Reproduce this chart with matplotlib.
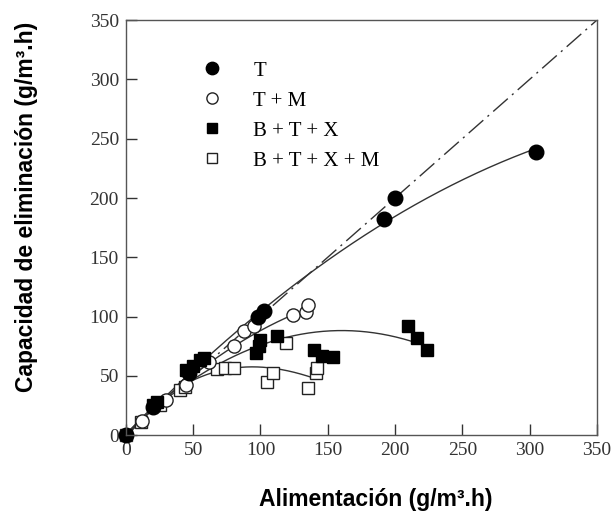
import numpy as np
import matplotlib.pyplot as plt

# data
t_x = [0, 20, 47, 98, 103, 192, 200, 305]
t_y = [0, 24, 52, 100, 105, 182, 200, 239]

tm_x = [0, 12, 30, 45, 62, 80, 88, 95, 124, 134, 135]
tm_y = [0, 12, 30, 42, 62, 75, 88, 92, 101, 104, 110]

btx_x = [20, 23, 45, 50, 55, 58, 97, 99, 100, 112, 140, 146, 154, 210, 216, 224]
btx_y = [25, 28, 55, 58, 63, 65, 69, 75, 80, 84, 72, 67, 66, 92, 82, 72]

btxm_x = [0, 11, 25, 40, 44, 68, 74, 80, 105, 109, 119, 135, 141, 142]
btxm_y = [0, 11, 25, 38, 41, 56, 57, 57, 45, 52, 78, 40, 52, 57]

# points
fit_t_x, fit_t_y = [0, 100, 192, 305], [0, 101, 182, 241]
fit_tm_x, fit_tm_y = [0, 60, 100, 125], [0, 58, 90, 101]
fit_btx_x, fit_btx_y = [0, 60, 100, 165, 216], [0, 57, 75, 86, 79]
fit_btxm_x, fit_btxm_y = [0, 40, 80, 100, 140], [0, 40, 57, 57, 48]

plt.rcParams['font.family'] = ['Liberation Serif', 'DejaVu Serif']

fig = plt.figure(figsize=(6.14, 5.18), dpi=100)
ax = fig.add_axes([0.205, 0.160, 0.767, 0.801])

ax.plot([0, 350], [0, 350], color='#333333', lw=1.0, dashes=[14, 4, 1.5, 4])

def curve(xs, ys, deg):
    c = np.polyfit(xs, ys, deg)
    xx = np.linspace(0, max(xs), 200)
    ax.plot(xx, np.polyval(c, xx), color='#333333', lw=1.0)

curve(fit_t_x, fit_t_y, 2)
curve(fit_tm_x, fit_tm_y, 2)
curve(fit_btx_x, fit_btx_y, 2)
curve(fit_btxm_x, fit_btxm_y, 3)

ax.plot(btxm_x, btxm_y, 's', ms=9, mfc='white', mec='#222222', mew=1.0, clip_on=False, label='B + T + X + M')
ax.plot(tm_x, tm_y, 'o', ms=9.5, mfc='white', mec='#222222', mew=1.0, clip_on=False, label='T + M')
ax.plot(btx_x, btx_y, 's', ms=9, mfc='black', mec='black', clip_on=False, label='B + T + X')
ax.plot(t_x, t_y, 'o', ms=10.5, mfc='black', mec='black', clip_on=False, label='T')

h, l = ax.get_legend_handles_labels()
order = [3, 1, 2, 0]
leg = ax.legend([h[i] for i in order], [l[i] for i in order], loc='upper left',
                bbox_to_anchor=(0.098, 0.947), frameon=False, fontsize=15,
                handletextpad=1.0, labelspacing=0.5, markerscale=0.85)

ax.set_xlim(0, 350)
ax.set_ylim(0, 350)
ax.set_xticks(range(0, 351, 50))
ax.set_yticks(range(0, 351, 50))
ax.tick_params(direction='in', length=8, width=1, labelsize=14, colors='#333333', pad=5)
for s in ax.spines.values():
    s.set_color('#555555')
    s.set_linewidth(1.0)

ax.set_xlabel('Alimentación (g/m³.h)', fontsize=16.5, fontweight='bold',
              family='Liberation Sans')
ax.set_ylabel('Capacidad de eliminación (g/m³.h)', fontsize=16.5, fontweight='bold',
              family='Liberation Sans')
ax.xaxis.set_label_coords(0.531, -0.128)
ax.yaxis.set_label_coords(-0.187, 0.549)

fig.savefig('out.png', dpi=100)
